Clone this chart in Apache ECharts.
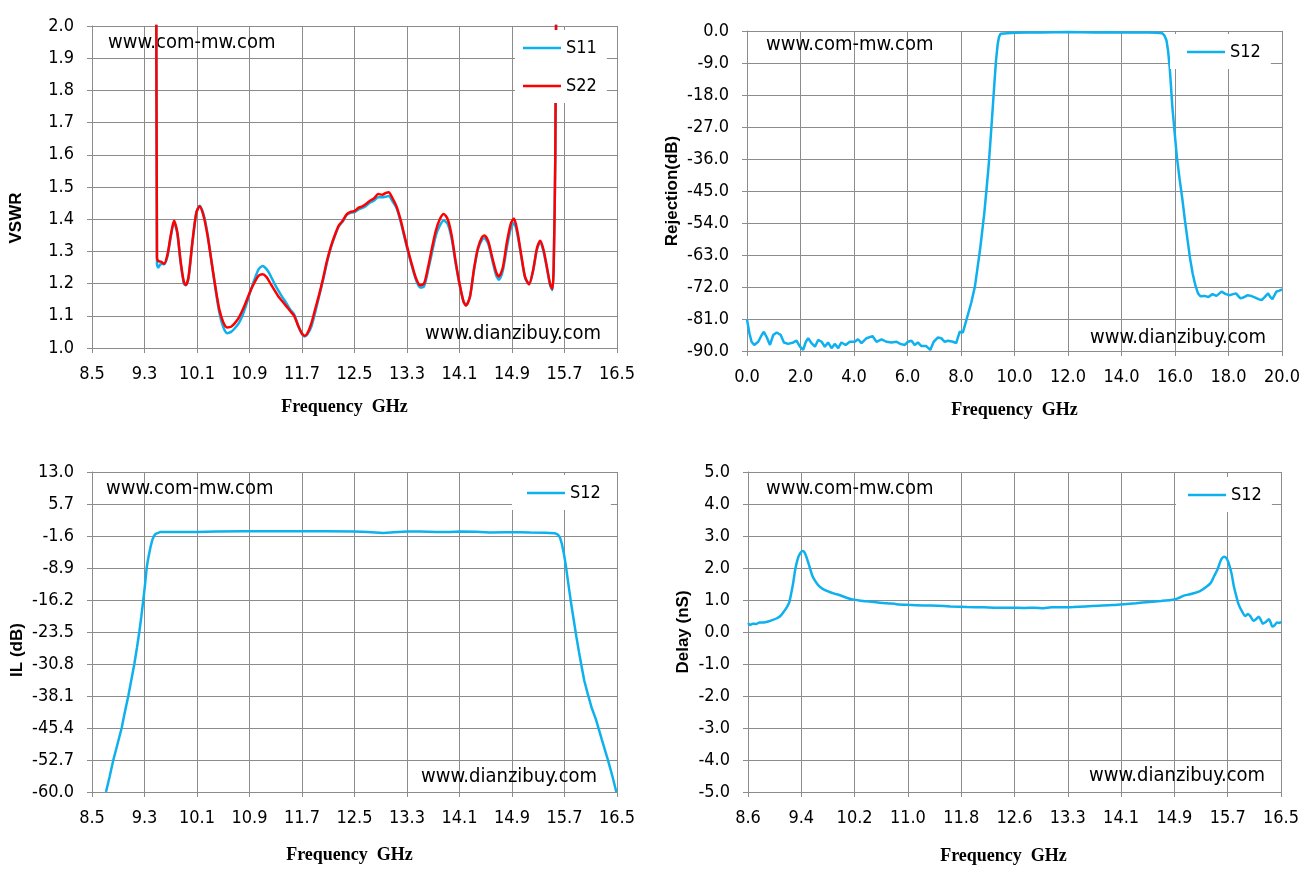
<!DOCTYPE html>
<html>
<head>
<meta charset="utf-8">
<script src="https://cdn.jsdelivr.net/npm/echarts@6/dist/echarts.min.js"></script>
<style>
html,body{margin:0;padding:0;background:#fff;}
#chart{width:1314px;height:881px;}
</style>
</head>
<body>
<div id="chart"></div>
<script>
// ---------- Chart 1: VSWR ----------
const vswrFreq = [9.475,9.49,9.51,9.55,9.60,9.65,9.70,9.75,9.80,9.85,9.90,9.93,9.97,10.03,10.09,10.14,10.20,10.26,10.32,10.38,10.44,10.50,10.56,10.62,10.68,10.74,10.80,10.86,10.92,10.98,11.04,11.10,11.16,11.22,11.28,11.34,11.40,11.46,11.52,11.58,11.64,11.70,11.74,11.78,11.84,11.90,11.96,12.02,12.08,12.14,12.20,12.26,12.32,12.38,12.44,12.50,12.56,12.62,12.68,12.74,12.80,12.86,12.92,12.98,13.02,13.08,13.14,13.20,13.26,13.32,13.38,13.44,13.50,13.56,13.62,13.68,13.74,13.80,13.86,13.92,13.98,14.04,14.10,14.16,14.20,14.26,14.32,14.38,14.44,14.48,14.54,14.60,14.66,14.70,14.76,14.82,14.88,14.93,14.98,15.04,15.10,15.16,15.22,15.28,15.33,15.38,15.43,15.48,15.515,15.535,15.56,15.585];
const s11 = [2.6,1.26,1.25,1.262,1.26,1.285,1.345,1.39,1.355,1.265,1.20,1.195,1.215,1.325,1.42,1.442,1.415,1.355,1.27,1.185,1.11,1.065,1.046,1.05,1.062,1.078,1.105,1.14,1.18,1.215,1.245,1.255,1.245,1.225,1.20,1.178,1.158,1.14,1.12,1.105,1.07,1.043,1.036,1.042,1.065,1.11,1.16,1.21,1.265,1.312,1.348,1.378,1.393,1.413,1.42,1.422,1.43,1.435,1.442,1.452,1.458,1.468,1.468,1.47,1.472,1.455,1.435,1.395,1.345,1.295,1.25,1.21,1.188,1.192,1.24,1.295,1.35,1.38,1.396,1.385,1.34,1.265,1.198,1.145,1.132,1.16,1.24,1.305,1.335,1.341,1.322,1.272,1.225,1.212,1.24,1.31,1.37,1.388,1.355,1.285,1.218,1.198,1.238,1.305,1.33,1.30,1.25,1.195,1.18,1.25,1.6,2.6];
const s22 = [2.6,1.28,1.27,1.268,1.262,1.29,1.35,1.395,1.36,1.27,1.205,1.196,1.22,1.33,1.42,1.44,1.41,1.35,1.27,1.19,1.12,1.08,1.064,1.066,1.078,1.095,1.12,1.15,1.18,1.205,1.225,1.229,1.22,1.20,1.18,1.16,1.145,1.13,1.115,1.10,1.07,1.045,1.038,1.045,1.075,1.12,1.165,1.215,1.27,1.315,1.35,1.38,1.395,1.415,1.423,1.425,1.435,1.44,1.448,1.458,1.465,1.478,1.476,1.482,1.484,1.465,1.44,1.40,1.35,1.30,1.255,1.215,1.195,1.20,1.25,1.31,1.365,1.40,1.416,1.40,1.35,1.27,1.20,1.145,1.132,1.16,1.245,1.31,1.343,1.349,1.33,1.28,1.235,1.222,1.25,1.326,1.385,1.402,1.365,1.29,1.22,1.198,1.24,1.31,1.333,1.305,1.253,1.20,1.183,1.25,1.6,2.6];

// ---------- Chart 2: Rejection ----------
const rejFreq = [0.0,0.09,0.17,0.27,0.42,0.55,0.63,0.73,0.86,0.98,1.11,1.26,1.38,1.54,1.73,1.85,1.98,2.10,2.20,2.29,2.41,2.54,2.66,2.79,2.91,3.03,3.16,3.28,3.41,3.53,3.69,3.84,4.03,4.15,4.28,4.47,4.69,4.84,5.03,5.21,5.40,5.59,5.73,5.90,6.02,6.15,6.27,6.39,6.52,6.70,6.85,6.98,7.14,7.26,7.39,7.51,7.70,7.82,7.95,8.07,8.20,8.38,8.52,8.62,8.71,8.79,8.87,8.95,9.03,9.1,9.18,9.25,9.31,9.37,9.42,9.48,9.53,10.0,10.5,11.0,11.5,12.0,12.5,13.0,13.5,14.0,14.5,15.0,15.3,15.52,15.6,15.68,15.74,15.8,15.85,15.9,15.98,16.07,16.17,16.28,16.37,16.47,16.56,16.66,16.76,16.86,16.95,17.1,17.25,17.4,17.55,17.74,17.9,18.05,18.17,18.29,18.37,18.45,18.6,18.72,18.84,19.0,19.12,19.24,19.36,19.48,19.56,19.64,19.72,19.79,19.9,20.0];
const rejS12 = [-81.1,-85.0,-87.4,-88.3,-87.4,-85.5,-84.6,-86.0,-88.3,-85.5,-84.8,-85.5,-87.6,-88.0,-87.6,-87.1,-88.8,-89.7,-87.4,-86.4,-87.8,-88.8,-86.9,-87.4,-88.8,-87.6,-89.2,-88.0,-89.2,-87.6,-88.3,-87.4,-87.4,-86.7,-87.8,-86.4,-85.8,-87.4,-86.7,-87.4,-87.6,-87.4,-88.0,-88.3,-87.4,-87.1,-88.3,-87.6,-88.6,-88.6,-89.7,-87.4,-86.2,-86.4,-87.4,-87.1,-87.4,-87.8,-84.6,-84.8,-81.3,-76.5,-71.9,-66.5,-61.6,-56.5,-51.3,-44.8,-38.2,-31.0,-22.3,-14.5,-8.2,-3.8,-1.7,-0.8,-0.56,-0.5,-0.45,-0.4,-0.35,-0.3,-0.35,-0.4,-0.38,-0.4,-0.42,-0.45,-0.5,-0.6,-1.2,-2.6,-5.5,-10.1,-15.5,-21.3,-28.0,-35.4,-41.5,-47.6,-53.2,-58.8,-63.8,-68.2,-71.5,-73.8,-74.6,-74.5,-74.8,-74.0,-74.5,-73.3,-74.0,-74.3,-74.0,-73.8,-74.6,-75.2,-74.8,-74.3,-74.5,-75.0,-75.4,-75.7,-74.8,-73.8,-74.8,-75.4,-74.3,-73.3,-73.0,-72.7];

// ---------- Chart 3: Insertion loss ----------
const ilFreq = [8.713,8.77,8.825,8.89,8.952,9.0,9.053,9.10,9.145,9.185,9.221,9.252,9.282,9.31,9.333,9.353,9.373,9.395,9.419,9.445,9.47,9.50,9.536,9.6,9.7,9.89,10.1,10.4,10.82,11.3,11.7,12.07,12.5,12.7,12.94,13.1,13.31,13.5,13.75,13.95,14.12,14.35,14.56,14.8,15.0,15.18,15.4,15.55,15.6,15.63,15.66,15.69,15.72,15.75,15.8,15.84,15.88,15.92,15.96,16.0,16.05,16.11,16.18,16.27,16.36,16.43,16.49];
const ilS12 = [-60,-56.4,-52.7,-49.0,-45.4,-41.8,-38.1,-34.4,-30.8,-27.1,-23.5,-19.9,-16.2,-12.4,-8.9,-7.0,-5.5,-3.9,-2.5,-1.6,-1.1,-0.85,-0.7,-0.68,-0.7,-0.66,-0.7,-0.58,-0.51,-0.52,-0.5,-0.51,-0.58,-0.7,-0.89,-0.75,-0.58,-0.6,-0.66,-0.7,-0.58,-0.65,-0.81,-0.75,-0.75,-0.81,-0.85,-0.96,-1.3,-1.9,-3.4,-5.6,-8.3,-11.6,-16.9,-20.7,-24.5,-28.0,-31.3,-34.5,-37.4,-40.6,-43.5,-48.1,-52.6,-56.4,-60];

// ---------- Chart 4: Group delay ----------
const delayFreq = [8.6,8.63,8.67,8.72,8.77,8.83,8.9,8.96,9.03,9.08,9.115,9.16,9.21,9.24,9.27,9.3,9.335,9.37,9.41,9.44,9.47,9.51,9.555,9.6,9.65,9.72,9.81,9.88,9.96,10.05,10.15,10.27,10.4,10.53,10.66,10.8,10.97,11.2,11.41,11.6,11.85,12.1,12.3,12.48,12.7,12.85,12.98,13.1,13.25,13.42,13.6,13.8,14.0,14.17,14.35,14.55,14.72,14.87,14.97,15.05,15.15,15.3,15.4,15.46,15.51,15.56,15.6,15.62,15.66,15.7,15.73,15.77,15.8,15.84,15.87,15.92,15.97,16.01,16.05,16.09,16.13,16.17,16.2,16.23,16.28,16.32,16.35,16.37,16.41,16.44,16.47,16.5];
const delayS12 = [0.28,0.22,0.26,0.25,0.30,0.30,0.33,0.37,0.43,0.50,0.59,0.72,0.92,1.2,1.54,1.95,2.27,2.45,2.53,2.48,2.32,2.05,1.75,1.58,1.44,1.33,1.25,1.2,1.15,1.08,1.02,0.98,0.95,0.92,0.90,0.87,0.85,0.83,0.82,0.80,0.78,0.77,0.76,0.76,0.75,0.76,0.74,0.77,0.77,0.78,0.80,0.82,0.84,0.87,0.90,0.94,0.97,1.0,1.05,1.13,1.18,1.28,1.42,1.54,1.75,1.96,2.2,2.29,2.35,2.28,2.11,1.8,1.44,1.1,0.87,0.65,0.50,0.56,0.48,0.35,0.40,0.48,0.38,0.26,0.32,0.40,0.28,0.17,0.22,0.30,0.28,0.32];

// ---------- helpers ----------
const zip = (xs, ys) => xs.map((x, i) => [x, ys[i]]);
const GRID = '#8c8c8c';
const LABEL_FONT = 'DejaVu Sans Condensed, DejaVu Sans, sans-serif';
const BLUE = '#0fb0ee';
const RED = '#ff0000';

function xAxis(gridIndex, min, max, interval, nameGap, shift) {
  return {
    type: 'value', gridIndex, min, max, interval,
    name: 'Frequency  GHz', nameLocation: 'middle', nameGap,
    nameTextStyle: { fontFamily: 'Liberation Serif, serif', fontWeight: 'bold', fontSize: 18, color: '#000',
                     padding: shift > 0 ? [0, shift * 2, 0, 0] : [0, 0, 0, 0] },
    axisLine: { show: true, onZero: false, lineStyle: { color: GRID, width: 1 } },
    axisTick: { show: true, length: 5, lineStyle: { color: GRID } },
    splitLine: { show: true, lineStyle: { color: GRID, width: 1 } },
    axisLabel: { margin: 17, fontFamily: LABEL_FONT, fontSize: 18, color: '#000',
                 formatter: v => v.toFixed(1), showMinLabel: true, showMaxLabel: true }
  };
}
function yAxis(gridIndex, min, max, interval, name, nameGap, shift) {
  return {
    type: 'value', gridIndex, min, max, interval,
    name, nameLocation: 'middle', nameGap,
    nameTextStyle: { fontFamily: 'Liberation Sans, Arial, sans-serif', fontWeight: 'bold', fontSize: 17, color: '#000',
                     padding: shift > 0 ? [0, shift * 2, 0, 0] : [0, 0, 0, 0] },
    axisLine: { show: true, onZero: false, lineStyle: { color: GRID, width: 1 } },
    axisTick: { show: true, length: 5, lineStyle: { color: GRID } },
    splitLine: { show: true, lineStyle: { color: GRID, width: 1 } },
    axisLabel: { margin: 18, fontFamily: LABEL_FONT, fontSize: 18, color: '#000',
                 formatter: v => v.toFixed(1), showMinLabel: true, showMaxLabel: true }
  };
}
function legend(left, top, names, padLeft) {
  return {
    data: names, orient: 'vertical', left, top,
    backgroundColor: '#fff', padding: [9, 10, 8, padLeft],
    icon: 'rect', itemWidth: 38, itemHeight: 2.5, itemGap: 20,
    selectedMode: false,
    textStyle: { fontFamily: LABEL_FONT, fontSize: 18, color: '#000' }
  };
}
function lineSeries(name, xi, yi, data, color, smooth) {
  return {
    type: 'line', name, xAxisIndex: xi, yAxisIndex: yi, data,
    showSymbol: false, symbol: 'none', smooth, clip: true,
    lineStyle: { color, width: 2.5 }, itemStyle: { color }
  };
}
function mark(left, top, text) {
  return { type: 'text', left, top, z: 1,
           style: { text, font: '20px "DejaVu Sans Condensed", "DejaVu Sans", sans-serif', fill: '#000' } };
}

const chart = echarts.init(document.getElementById('chart'), null, { renderer: 'canvas' });
chart.setOption({
  animation: false,
  backgroundColor: '#fff',
  grid: [
    { left: 92,  top: 26,  width: 525, height: 322 },
    { left: 747, top: 31,  width: 535, height: 320 },
    { left: 92,  top: 472, width: 525, height: 320 },
    { left: 748, top: 472, width: 533, height: 320 }
  ],
  xAxis: [
    xAxis(0, 8.5, 16.5, 0.8, 50, 10),
    xAxis(1, 0, 20, 2, 50, 0),
    xAxis(2, 8.5, 16.5, 0.8, 54, 5),
    xAxis(3, 8.6, 16.5, 0.79, 55, 11)
  ],
  yAxis: [
    yAxis(0, 1.0, 2.0, 0.1, 'VSWR', 67, 31),
    yAxis(1, -90, 0, 9, 'Rejection(dB)', 66, 0),
    yAxis(2, -60, 13, 7.3, 'IL (dB)', 66, 18),
    yAxis(3, -5, 5, 1, 'Delay (nS)', 56, 0)
  ],
  legend: [
    legend(515, 30, ['S11', 'S22'], 8),
    legend(1170, 34, ['S12'], 17),
    legend(512, 475, ['S12'], 15),
    legend(1176, 477, ['S12'], 12)
  ],
  graphic: [
    mark(108, 33, 'www.com-mw.com'),
    mark(425, 324, 'www.dianzibuy.com'),
    mark(766, 35, 'www.com-mw.com'),
    mark(1090, 328, 'www.dianzibuy.com'),
    mark(106, 479, 'www.com-mw.com'),
    mark(421, 767, 'www.dianzibuy.com'),
    mark(766, 479, 'www.com-mw.com'),
    mark(1089, 766, 'www.dianzibuy.com')
  ],
  series: [
    lineSeries('S11', 0, 0, zip(vswrFreq, s11), BLUE, 0.25),
    lineSeries('S22', 0, 0, zip(vswrFreq, s22), RED, 0.25),
    lineSeries('S12', 1, 1, zip(rejFreq, rejS12), BLUE, false),
    lineSeries('S12', 2, 2, zip(ilFreq, ilS12), BLUE, false),
    lineSeries('S12', 3, 3, zip(delayFreq, delayS12), BLUE, 0.2)
  ]
});
</script>
</body>
</html>
